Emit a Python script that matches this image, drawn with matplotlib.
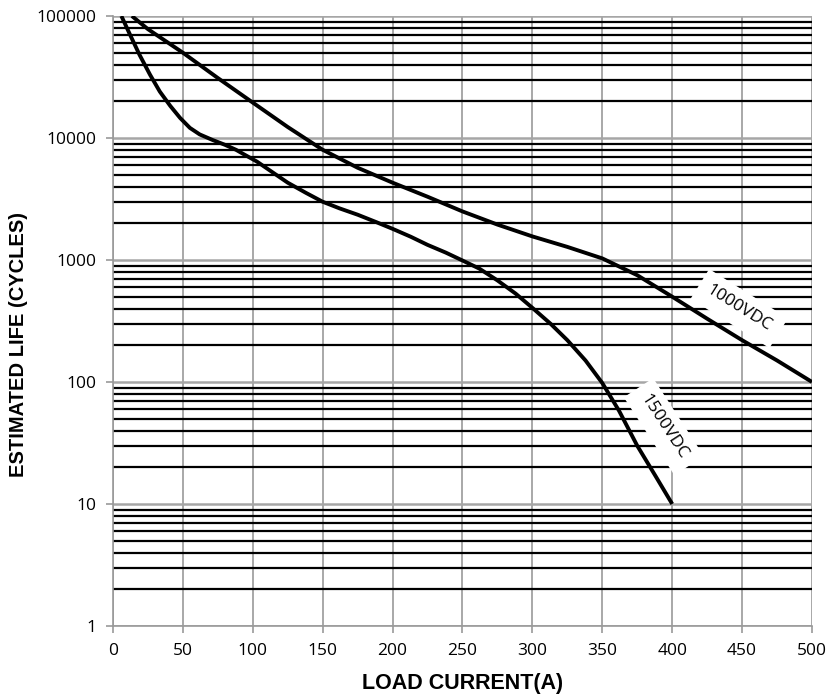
import matplotlib
matplotlib.use("Agg")
import matplotlib.pyplot as plt
from matplotlib.ticker import LogLocator, FixedLocator, NullFormatter

x_1000 = [13.5, 25, 50, 75, 100, 125, 150, 175, 200, 225, 250, 275, 300, 325, 350, 375, 400, 425, 450, 475, 500]
y_1000 = [100000, 78000, 50000, 31000, 19500, 12300, 8000, 5700, 4300, 3300, 2500, 1950, 1560, 1280, 1030, 750, 500, 330, 220, 150, 100]

x_1500 = [6, 12, 19, 26.5, 33.5, 41, 48, 55, 62, 71.5, 80, 88, 95, 103, 115, 125, 138, 150, 162, 175, 188, 200,
          213, 225, 238, 250, 262, 275, 288, 300, 313, 325, 338, 350, 362, 375, 388, 400]
y_1500 = [100000, 71000, 48000, 33000, 24000, 18300, 14600, 12100, 10700, 9600, 8800, 8000, 7200, 6400,
          5150, 4300, 3550, 3000, 2650, 2350, 2050, 1800, 1550, 1330, 1150, 990, 850, 680, 530, 405, 300, 220, 150,
          98, 58, 30, 17, 10]

x_ticks = [0, 50, 100, 150, 200, 250, 300, 350, 400, 450, 500]
y_ticks = [1, 10, 100, 1000, 10000, 100000]
y_ticklabels = ["1", "10", "100", "1000", "10000", "100000"]

fig = plt.figure(figsize=(8.29, 6.98), dpi=100)
ax = fig.add_axes([0.1363, 0.1032, 0.8432, 0.8739])
ax.set_yscale("log")
ax.set_xlim(0, 500)
ax.set_ylim(1, 100000)

ax.xaxis.set_major_locator(FixedLocator(x_ticks))
ax.yaxis.set_major_locator(FixedLocator(y_ticks))
ax.yaxis.set_minor_locator(LogLocator(base=10, subs=range(2, 10)))
ax.yaxis.set_minor_formatter(NullFormatter())
ax.set_yticklabels(y_ticklabels)

ax.grid(True, which="major", axis="x", color="#999999", lw=1.2)
ax.grid(True, which="major", axis="y", color="#a6a6a6", lw=1.8)
ax.grid(True, which="minor", axis="y", color="black", lw=1.6)
ax.set_axisbelow(True)

for s in ["top", "right"]:
    ax.spines[s].set_visible(False)
for s in ["left", "bottom"]:
    ax.spines[s].set_color("#999999")
    ax.spines[s].set_linewidth(1.2)

ax.tick_params(axis="both", which="major", direction="out", length=5, color="#999999", width=1.2,
               labelsize=12.5, labelcolor="black", pad=7)
ax.tick_params(axis="y", which="minor", length=0)
for lab in ax.get_xticklabels() + ax.get_yticklabels():
    lab.set_fontfamily("Open Sans")

ax.plot(x_1000, y_1000, color="black", lw=2.8, solid_capstyle="butt", solid_joinstyle="round", zorder=3)
ax.plot(x_1500, y_1500, color="black", lw=2.8, solid_capstyle="butt", solid_joinstyle="round", zorder=3)

ax.text(448, 400, "1000VDC", rotation=-32, ha="center", va="center", fontsize=12.5,
        family="Open Sans", zorder=2,
        bbox=dict(boxstyle="square,pad=0.55", fc="white", ec="none"))
ax.text(394, 43, "1500VDC", rotation=-57, ha="center", va="center", fontsize=12.5,
        family="Open Sans", zorder=2,
        bbox=dict(boxstyle="square,pad=0.55", fc="white", ec="none"))

ax.set_xlabel("LOAD CURRENT(A)", fontsize=15.5, fontweight="bold", family="Liberation Sans")
ax.set_ylabel("ESTIMATED LIFE (CYCLES)", fontsize=14.5, fontweight="bold", family="Liberation Sans")
ax.xaxis.set_label_coords(0.5, -0.077)
ax.yaxis.set_label_coords(-0.1216, 0.462)

fig.savefig("out.png", dpi=100)
